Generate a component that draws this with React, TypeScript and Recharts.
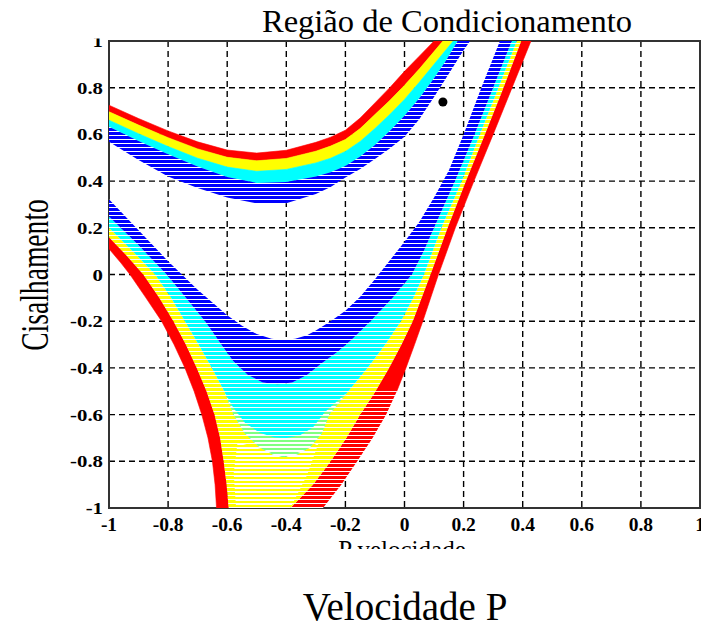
import React from 'react';
import { ScatterChart, Scatter, XAxis, YAxis, CartesianGrid, ReferenceArea } from 'recharts';

type Pt = [number, number];

const TICKS = [-1, -0.8, -0.6, -0.4, -0.2, 0, 0.2, 0.4, 0.6, 0.8, 1];
const TICK_LABELS = ['-1', '-0.8', '-0.6', '-0.4', '-0.2', '0', '0.2', '0.4', '0.6', '0.8', '1'];

const TITLE = 'Região de Condicionamento';
const X_TITLE = 'Velocidade P';
const X_SUBTITLE = 'P velocidade';
const Y_TITLE = 'Cisalhamento';

// marked point
const markedPoint = [{ x: 0.13, y: 0.739 }];

// ---- upper family of contours (U-shaped), band boundaries from top to bottom ----
const upperRedTop: Pt[] = [[-1, 0.725], [-0.9, 0.668], [-0.8, 0.615], [-0.7, 0.568], [-0.6, 0.533], [-0.5, 0.52], [-0.4, 0.532], [-0.3, 0.566], [-0.25, 0.588], [-0.2, 0.618], [-0.15, 0.67], [-0.1, 0.735], [-0.05, 0.8], [0, 0.87], [0.05, 0.935], [0.1, 1.0]];
const upperRedYellow: Pt[] = [[-1, 0.697], [-0.9, 0.64], [-0.8, 0.586], [-0.7, 0.538], [-0.6, 0.502], [-0.5, 0.487], [-0.4, 0.497], [-0.3, 0.528], [-0.25, 0.55], [-0.2, 0.578], [-0.15, 0.625], [-0.1, 0.685], [-0.05, 0.745], [0, 0.81], [0.05, 0.88], [0.1, 0.955], [0.13, 1.0]];
const upperYellowCyan: Pt[] = [[-1, 0.661], [-0.9, 0.603], [-0.8, 0.548], [-0.7, 0.498], [-0.6, 0.46], [-0.5, 0.442], [-0.4, 0.45], [-0.3, 0.478], [-0.25, 0.498], [-0.2, 0.527], [-0.15, 0.57], [-0.1, 0.625], [-0.05, 0.685], [0, 0.75], [0.05, 0.823], [0.1, 0.9], [0.165, 1.0]];
const upperCyanBlue: Pt[] = [[-1, 0.633], [-0.9, 0.572], [-0.8, 0.515], [-0.7, 0.462], [-0.6, 0.418], [-0.5, 0.392], [-0.4, 0.396], [-0.3, 0.42], [-0.25, 0.438], [-0.2, 0.465], [-0.15, 0.505], [-0.1, 0.555], [-0.05, 0.615], [0, 0.68], [0.05, 0.755], [0.1, 0.84], [0.14, 0.915], [0.18, 1.0]];
const upperBlueBottom: Pt[] = [[-1, 0.569], [-0.9, 0.49], [-0.8, 0.42], [-0.7, 0.37], [-0.6, 0.33], [-0.5, 0.305], [-0.4, 0.305], [-0.3, 0.345], [-0.25, 0.375], [-0.2, 0.415], [-0.15, 0.452], [-0.1, 0.495], [-0.05, 0.54], [0, 0.59], [0.05, 0.665], [0.1, 0.76], [0.15, 0.86], [0.2, 0.96], [0.222, 1.0]];

// ---- lower family of contours (V-shaped) ----
const lowerRedOuterLeft: Pt[] = [[-1, 0.11], [-0.96, 0.05], [-0.929, 0.0], [-0.875, -0.1], [-0.822, -0.2], [-0.78, -0.3], [-0.743, -0.4], [-0.712, -0.5], [-0.686, -0.6], [-0.665, -0.7], [-0.65, -0.8], [-0.641, -0.9], [-0.636, -1.0]];
const lowerRedYellowLeft: Pt[] = [[-1, 0.16], [-0.94, 0.08], [-0.884, 0.0], [-0.83, -0.1], [-0.782, -0.2], [-0.74, -0.3], [-0.703, -0.4], [-0.67, -0.5], [-0.643, -0.6], [-0.624, -0.7], [-0.612, -0.8], [-0.602, -0.9], [-0.595, -1.0]];
const lowerRedOuterRight: Pt[] = [[-0.276, -1], [-0.214, -0.9], [-0.16, -0.8], [-0.108, -0.7], [-0.062, -0.6], [-0.026, -0.5], [0.005, -0.4], [0.034, -0.3], [0.062, -0.2], [0.115, 0], [0.172, 0.2], [0.235, 0.4], [0.3, 0.6], [0.364, 0.8], [0.428, 1]];
const lowerRedYellowRight: Pt[] = [[-0.386, -1], [-0.31, -0.9], [-0.25, -0.8], [-0.197, -0.7], [-0.15, -0.6], [-0.098, -0.5], [-0.052, -0.4], [-0.01, -0.3], [0.028, -0.2], [0.088, 0], [0.146, 0.2], [0.208, 0.4], [0.272, 0.6], [0.335, 0.8], [0.395, 1]];
const lowerYellowTopLeftArm: Pt[] = [[-1, 0.2], [-0.92, 0.1], [-0.844, 0.0], [-0.79, -0.1], [-0.743, -0.2], [-0.697, -0.3], [-0.652, -0.4]];
const lowerYellowTopVertex: Pt[] = [[-0.61, -0.5], [-0.578, -0.6], [-0.54, -0.68], [-0.49, -0.74], [-0.44, -0.775], [-0.41, -0.78], [-0.37, -0.775], [-0.32, -0.74], [-0.28, -0.68], [-0.255, -0.6], [-0.19, -0.5]];
const lowerYellowTopRightArm: Pt[] = [[-0.125, -0.4], [-0.065, -0.3], [-0.012, -0.2], [0.03, -0.1], [0.066, 0], [0.125, 0.2], [0.194, 0.4], [0.255, 0.6], [0.318, 0.8], [0.38, 1]];
const lowerGreenTop: Pt[] = [[-0.61, -0.5], [-0.58, -0.57], [-0.54, -0.635], [-0.49, -0.678], [-0.44, -0.698], [-0.4, -0.7], [-0.355, -0.69], [-0.31, -0.655], [-0.27, -0.59], [-0.19, -0.5]];
const lowerCyanBlue: Pt[] = [[-1, 0.248], [-0.9, 0.125], [-0.805, 0.0], [-0.74, -0.1], [-0.675, -0.2], [-0.62, -0.3], [-0.58, -0.37], [-0.53, -0.43], [-0.48, -0.462], [-0.43, -0.47], [-0.38, -0.462], [-0.33, -0.43], [-0.28, -0.38], [-0.225, -0.33], [-0.18, -0.28], [-0.115, -0.2], [-0.04, -0.1], [0.025, 0], [0.065, 0.1], [0.1, 0.2], [0.171, 0.4], [0.237, 0.6], [0.3, 0.8], [0.363, 1]];
const lowerBlueInner: Pt[] = [[-1, 0.322], [-0.9, 0.19], [-0.8, 0.057], [-0.7, -0.065], [-0.6, -0.175], [-0.55, -0.22], [-0.5, -0.255], [-0.45, -0.275], [-0.41, -0.28], [-0.37, -0.275], [-0.33, -0.26], [-0.3, -0.24], [-0.25, -0.2], [-0.2, -0.155], [-0.15, -0.095], [-0.1, -0.02], [-0.05, 0.06], [0.0, 0.14], [0.05, 0.225], [0.1, 0.33], [0.15, 0.445], [0.2, 0.6], [0.26, 0.8], [0.323, 1.0]];

// region at the bottom where the yellow contour lines stand far apart
const bottomSparseRegion: Pt[] = [[-0.565, -0.72], [-0.49, -0.745], [-0.41, -0.785], [-0.33, -0.75], [-0.29, -0.72], [-0.33, -0.86], [-0.386, -1.0], [-0.57, -1.0], [-0.578, -0.85]];

const RED = '#ff0000';
const YELLOW = '#ffff00';
const GREEN = '#80ff80';
const CYAN = '#00ffff';
const BLUE = '#0000ff';

const rev = (p: Pt[]) => [...p].reverse();
const rows = (p: Pt[]) => p.map(([x, y]) => ({ x, y }));

const lowerYellowTop: Pt[] = [...lowerYellowTopLeftArm, ...lowerYellowTopVertex, ...lowerYellowTopRightArm];
// the right red arm: its lower part (below y = -0.5) shows separated lines
const SPLIT = 6;
const redRightLow = [...lowerRedOuterRight.slice(0, SPLIT), ...rev(lowerRedYellowRight.slice(0, SPLIT))];
const redRightHigh = [...lowerRedOuterRight.slice(SPLIT - 1), ...rev(lowerRedYellowRight.slice(SPLIT - 1))];

const bands = [
  { id: 'u-red', fill: RED, stroke: RED, pts: [...upperRedTop, ...rev(upperRedYellow)] },
  { id: 'u-yellow', fill: YELLOW, stroke: YELLOW, pts: [...upperRedYellow, ...rev(upperYellowCyan)] },
  { id: 'u-cyan', fill: CYAN, stroke: CYAN, pts: [...upperYellowCyan, ...rev(upperCyanBlue)] },
  { id: 'u-blue', fill: 'url(#stripeBlue)', stroke: 'none', pts: [...upperCyanBlue, ...rev(upperBlueBottom)] },
  { id: 'l-red-left', fill: RED, stroke: RED, pts: [...lowerRedOuterLeft, ...rev(lowerRedYellowLeft)] },
  { id: 'l-red-right-high', fill: RED, stroke: RED, pts: redRightHigh },
  { id: 'l-red-right-low', fill: 'url(#stripeRed)', stroke: 'none', pts: redRightLow },
  { id: 'l-yellow', fill: 'url(#stripeYellow)', stroke: 'none', pts: [...lowerRedYellowLeft, ...lowerRedYellowRight, ...rev(lowerYellowTop)] },
  { id: 'l-cyan', fill: 'url(#stripeCyan)', stroke: 'none', pts: [...lowerYellowTop, ...rev(lowerCyanBlue)] },
  { id: 'l-green', fill: 'url(#stripeGreen)', stroke: 'none', pts: [...lowerGreenTop, ...rev(lowerYellowTopVertex)] },
  { id: 'l-blue', fill: 'url(#stripeBlue)', stroke: 'none', pts: [...lowerCyanBlue, ...rev(lowerBlueInner)] },
  { id: 'gaps-bottom', fill: 'url(#gapRow)', stroke: 'none', pts: bottomSparseRegion },
];

const labelOf = (v: number) => {
  const i = TICKS.findIndex((t) => Math.abs(t - v) < 1e-9);
  return i >= 0 ? TICK_LABELS[i] : String(v);
};

const serif = "'Liberation Serif', 'Times New Roman', serif";
const tickStyle = { fontFamily: serif, fontWeight: 700 } as const;

const XTick = (props: any) => {
  const { x, payload } = props;
  return (
    <text x={x} y={531} textAnchor="middle" style={tickStyle} fontSize={19.5} fill="#000">
      {labelOf(payload.value)}
    </text>
  );
};

const YTick = (props: any) => {
  const { y, payload } = props;
  return (
    <text transform={`translate(103, ${y + 6}) scale(1.3, 1)`} textAnchor="end" style={tickStyle} fontSize={16} fill="#000">
      {labelOf(payload.value)}
    </text>
  );
};

const NoShape = () => <g />;

const Stripe = ({ id, color, on }: { id: string; color: string; on: number }) => (
  <pattern id={id} patternUnits="userSpaceOnUse" x={0} y={0} width={8} height={4}>
    <rect x={0} y={0} width={8} height={4} fill="#fff" />
    <rect x={0} y={0} width={8} height={on} fill={color} />
  </pattern>
);

export default function App() {
  return (
    <div style={{ position: 'absolute', left: 0, top: 0, width: 701, height: 625, background: '#fff', overflow: 'hidden' }}>
      <svg width={0} height={0} style={{ position: 'absolute' }}>
        <defs>
          <Stripe id="stripeBlue" color={BLUE} on={3} />
          <Stripe id="stripeCyan" color={CYAN} on={3} />
          <Stripe id="stripeYellow" color={YELLOW} on={3} />
          <Stripe id="stripeRed" color={RED} on={3} />
          <Stripe id="stripeGreen" color={GREEN} on={2} />
          <pattern id="gapRow" patternUnits="userSpaceOnUse" x={0} y={0} width={8} height={4}>
            <rect x={0} y={0} width={8} height={1} fill="#fff" />
          </pattern>
        </defs>
      </svg>
      <ScatterChart width={701} height={625} margin={{ top: 41, right: 1, bottom: 87, left: 59 }}>
        <CartesianGrid stroke="#000" strokeDasharray="6 4" strokeWidth={1.4} />
        <XAxis type="number" dataKey="x" domain={[-1, 1]} ticks={TICKS} interval={0} allowDataOverflow tickLine={false} axisLine={false} tick={XTick} height={30} />
        <YAxis type="number" dataKey="y" domain={[-1, 1]} ticks={TICKS} interval={0} allowDataOverflow tickLine={false} axisLine={false} tick={YTick} width={50} />
        {bands.map((b) => (
          <Scatter
            key={b.id}
            name={b.id}
            data={rows(b.pts)}
            fill={b.stroke === 'none' ? '#000' : b.stroke}
            line={{ fill: b.fill, stroke: b.stroke, strokeWidth: 0.6 }}
            shape={NoShape}
            isAnimationActive={false}
          />
        ))}
        <Scatter name="point" data={markedPoint} fill="#000" isAnimationActive={false} />
        <ReferenceArea x1={-1} x2={1} y1={-1} y2={1} fill="none" fillOpacity={0} stroke="#333" strokeWidth={2} ifOverflow="visible" />
      </ScatterChart>
      <svg width={701} height={625} style={{ position: 'absolute', left: 0, top: 0, pointerEvents: 'none' }}>
        <defs>
          <clipPath id="subclip">
            <rect x={0} y={0} width={701} height={549} />
          </clipPath>
        </defs>
        <rect x={60} y={0} width={48} height={38.5} fill="#fff" />
        <text x={447} y={32} textAnchor="middle" fontFamily={serif} fontSize={32.5} fill="#000">{TITLE}</text>
        <text x={402} y={558} textAnchor="middle" fontFamily={serif} fontSize={25} fill="#000" clipPath="url(#subclip)">{X_SUBTITLE}</text>
        <text x={405} y={620} textAnchor="middle" fontFamily={serif} fontSize={39} fill="#000">{X_TITLE}</text>
        <text transform="translate(48, 275) rotate(-90) scale(0.69, 1)" textAnchor="middle" fontFamily={serif} fontSize={40} fill="#000">{Y_TITLE}</text>
      </svg>
    </div>
  );
}
